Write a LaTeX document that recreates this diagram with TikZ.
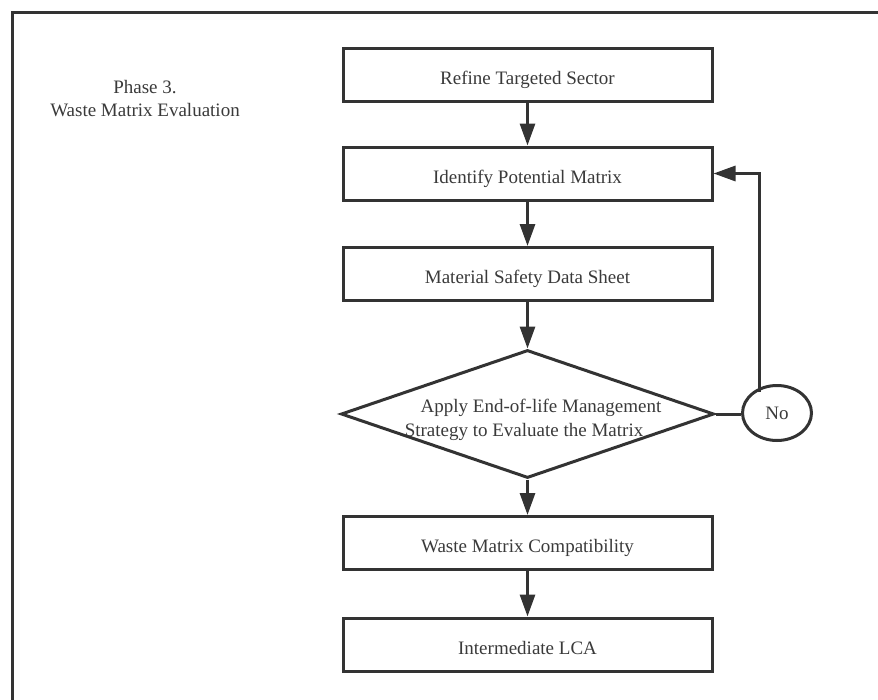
\documentclass[tikz,border=0pt]{standalone}
\usepackage{fontspec}
\setmainfont{Liberation Serif}
\usetikzlibrary{arrows.meta,shapes.geometric}
\definecolor{ln}{HTML}{333333}
\definecolor{tx}{HTML}{3A3A3A}
\tikzset{
  every node/.style={font=\fontsize{19}{23}\selectfont, text=tx},
  stepbox/.style={draw=ln, line width=3pt, minimum width=369pt, minimum height=53pt, inner sep=0pt, text height=19pt, text depth=0pt},
  conn/.style={draw=ln, line width=3pt, -{Triangle[length=22pt,width=15pt]}},
  plain/.style={draw=ln, line width=3pt},
}
\begin{document}
\begin{tikzpicture}[x=1pt,y=-1pt]
\clip (0,0) rectangle (878,699);
\fill[white] (0,0) rectangle (878,699);
\draw[ln, line width=3pt] (12,12) rectangle (920,740);
\node[align=center] (phase) at (145,99) {Phase 3.\\Waste Matrix Evaluation};
\node[stepbox] (b1) at (527.5,74.5) {Refine Targeted Sector};
\node[stepbox] (b2) at (527.5,173.5) {Identify Potential Matrix};
\node[stepbox] (b3) at (527.5,274) {Material Safety Data Sheet};
\node[draw=ln, line width=3pt, diamond, aspect=2.9, minimum width=373pt, minimum height=128pt, inner sep=0pt] (d) at (527.5,414) {};
\node (t1) at (541,408) {Apply End-of-life Management};
\node (t2) at (524,432) {Strategy to Evaluate the Matrix};
\node[draw=ln, line width=3pt, ellipse, minimum width=69pt, minimum height=55pt, inner sep=0pt] (no) at (777,413) {No};
\node[stepbox] (b4) at (527.5,543) {Waste Matrix Compatibility};
\node[stepbox] (b5) at (527.5,644.5) {Intermediate LCA};
\coordinate (c1) at (759,173.5);
\draw[conn] (b1) -- (b2);
\draw[conn] (b2) -- (b3);
\draw[conn] (b3) -- (d.north);
\draw[conn] (d.south) -- (b4);
\draw[conn] (b4) -- (b5);
\draw[plain] (d.east) -- (no.west |- d.east);
\draw[conn] (no.north west -| c1) |- (b2.east);
\end{tikzpicture}
\end{document}
